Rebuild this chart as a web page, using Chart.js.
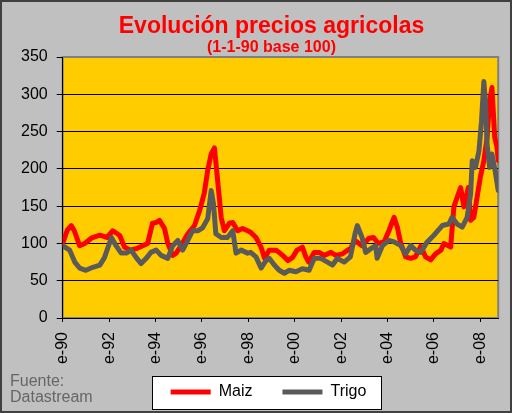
<!DOCTYPE html>
<html lang="es">
<head>
  <meta charset="UTF-8">
  <title>Evolución precios agricolas</title>
  <script src="https://cdn.jsdelivr.net/npm/chart.js"></script>
  <style>
    body { margin: 0; background: #fff; }
    .marco {
      width: 512px;
      height: 413px;
      box-sizing: border-box;
      border: 2px solid #404040;
      background: #c0c0c0;
    }
    canvas { display: block; }
  </style>
</head>
<body>
  <div class="marco"><canvas id="grafico" width="508" height="409"></canvas></div>

  <script>
    // etiquetas del eje X (enero de cada dos años)
    const etiquetasX = ['e-90', 'e-92', 'e-94', 'e-96', 'e-98', 'e-00', 'e-02', 'e-04', 'e-06', 'e-08'];

    // Maiz: fecha en años decimales / índice (1-1-90 = 100)
    const maizFechas = [1990.0, 1990.2, 1990.37, 1990.5, 1990.73, 1990.95, 1991.23, 1991.6, 1991.9, 1992.16,
      1992.45, 1992.67, 1992.9, 1993.17, 1993.45, 1993.66, 1993.87, 1994.03, 1994.17, 1994.39,
      1994.53, 1994.74, 1994.89, 1995.1, 1995.39, 1995.68, 1995.9, 1996.1, 1996.25, 1996.4,
      1996.54, 1996.68, 1996.83, 1996.97, 1997.18, 1997.33, 1997.54, 1997.75, 1997.97, 1998.1,
      1998.33, 1998.55, 1998.7, 1998.9, 1999.2, 1999.48, 1999.7, 1999.9, 2000.1, 2000.33,
      2000.48, 2000.6, 2000.84, 2001.05, 2001.27, 2001.56, 2001.77, 2002.06, 2002.27, 2002.4,
      2002.6, 2002.9, 2003.2, 2003.4, 2003.6, 2003.85, 2004.06, 2004.28, 2004.42, 2004.57,
      2004.78, 2005.0, 2005.2, 2005.43, 2005.64, 2005.86, 2006.07, 2006.3, 2006.43, 2006.72,
      2006.86, 2007.0, 2007.15, 2007.29, 2007.48, 2007.58, 2007.72, 2007.86, 2008.0, 2008.15,
      2008.29, 2008.4, 2008.5, 2008.62, 2008.72, 2008.77];
    const maizValores = [100, 118, 124, 117, 97, 100, 107, 111, 108, 117,
      111, 95, 91, 93, 97, 100, 127, 128, 131, 120,
      100, 84, 87, 97, 113, 124, 144, 167, 198, 220,
      228, 184, 135, 117, 127, 128, 117, 120, 117, 115,
      108, 95, 80, 91, 91, 84, 77, 81, 91, 95,
      82, 75, 88, 88, 84, 88, 84, 86, 91, 93,
      104, 97, 107, 108, 100, 102, 117, 135, 122, 100,
      82, 80, 82, 96, 82, 78, 86, 91, 100, 95,
      149, 162, 175, 149, 175, 131, 135, 162, 189, 211,
      242, 291, 309, 242, 229, 211];

    // Trigo
    const trigoFechas = [1990.0, 1990.3, 1990.52, 1990.73, 1991.0, 1991.3, 1991.6, 1991.8, 1992.1, 1992.3,
      1992.52, 1992.74, 1992.95, 1993.17, 1993.38, 1993.6, 1993.8, 1994.03, 1994.24, 1994.53,
      1994.74, 1994.96, 1995.17, 1995.39, 1995.6, 1995.82, 1996.03, 1996.25, 1996.4, 1996.5,
      1996.6, 1996.83, 1997.1, 1997.33, 1997.47, 1997.69, 1997.97, 1998.1, 1998.33, 1998.55,
      1998.76, 1998.9, 1999.12, 1999.33, 1999.55, 1999.76, 2000.05, 2000.33, 2000.62, 2000.84,
      2001.12, 2001.41, 2001.63, 2001.84, 2002.13, 2002.4, 2002.6, 2002.7, 2002.9, 2003.06,
      2003.28, 2003.49, 2003.55, 2003.78, 2004.06, 2004.28, 2004.57, 2004.78, 2005.0, 2005.2,
      2005.43, 2005.71, 2006.0, 2006.36, 2006.64, 2006.78, 2007.0, 2007.22, 2007.43, 2007.58,
      2007.65, 2007.79, 2007.94, 2008.05, 2008.15, 2008.22, 2008.29, 2008.4, 2008.5, 2008.64,
      2008.77];
    const trigoValores = [97, 91, 75, 67, 64, 68, 71, 81, 108, 97,
      87, 87, 91, 81, 73, 80, 88, 91, 84, 80,
      97, 104, 91, 104, 117, 117, 121, 133, 171, 153,
      113, 108, 108, 117, 87, 91, 87, 88, 82, 67,
      77, 80, 71, 64, 60, 64, 62, 66, 64, 80,
      80, 75, 71, 80, 75, 82, 113, 124, 108, 88,
      93, 97, 80, 97, 104, 102, 97, 86, 97, 91,
      88, 102, 111, 124, 126, 135, 126, 122, 135, 166,
      211, 202, 224, 264, 317, 291, 233, 202, 220, 197,
      171];

    const fuente = ['Fuente:', 'Datastream'];

    const puntos = (xs, ys) => xs.map((x, i) => ({ x: x, y: ys[i] }));

    Chart.defaults.font.family = 'Arial, "Liberation Sans", sans-serif';
    Chart.defaults.color = '#000';

    // corre títulos y leyenda para que queden centrados como en el original
    const ajuste = {
      id: 'ajuste',
      afterLayout(chart) {
        chart.boxes.forEach((b) => {
          if (b.position === 'top') { b.left += 16; b.right += 16; }
        });
        const l = chart.legend;
        l.left += 13; l.right += 13;
        l.top -= 11;
      }
    };

    // fondo amarillo del área, recuadro blanco de la leyenda y nota de fuente
    const fondo = {
      id: 'fondo',
      beforeDraw(chart) {
        const { ctx, chartArea: a, legend } = chart;
        ctx.save();
        ctx.fillStyle = '#ffcc00';
        ctx.fillRect(a.left, a.top, a.right - a.left, a.bottom - a.top);
        ctx.strokeStyle = '#808080';
        ctx.lineWidth = 2;
        ctx.strokeRect(a.left, a.top, a.right - a.left, a.bottom - a.top);

        const cx = Math.round((legend.left + legend.right) / 2);
        const cy = Math.round(legend.top + 30 + 8);
        ctx.fillStyle = '#fff';
        ctx.fillRect(cx - 117, cy - 16, 229, 33);
        ctx.strokeStyle = '#000';
        ctx.lineWidth = 1;
        ctx.strokeRect(cx - 117 + 0.5, cy - 16 + 0.5, 229, 33);
        ctx.restore();
      },
      afterDraw(chart) {
        const ctx = chart.ctx;
        ctx.save();
        ctx.fillStyle = '#666666';
        ctx.font = '16px Arial, "Liberation Sans", sans-serif';
        ctx.textBaseline = 'middle';
        ctx.fillText(fuente[0], 8, 380);
        ctx.fillText(fuente[1], 8, 396);
        ctx.restore();
      }
    };

    new Chart(document.getElementById('grafico'), {
      type: 'line',
      data: {
        datasets: [
          {
            label: 'Maiz',
            data: puntos(maizFechas, maizValores),
            borderColor: '#ff0000',
            backgroundColor: '#ff0000',
            borderWidth: 5,
            borderCapStyle: 'round',
            borderJoinStyle: 'round',
            pointRadius: 0,
            tension: 0,
            order: 1
          },
          {
            label: 'Trigo',
            data: puntos(trigoFechas, trigoValores),
            borderColor: '#5a5a5a',
            backgroundColor: '#5a5a5a',
            borderWidth: 5,
            borderCapStyle: 'round',
            borderJoinStyle: 'round',
            pointRadius: 0,
            tension: 0,
            order: 0
          }
        ]
      },
      options: {
        responsive: false,
        animation: false,
        devicePixelRatio: 1,
        layout: { padding: { left: 10, right: 11, top: 0, bottom: 0 } },
        plugins: {
          title: {
            display: true,
            text: 'Evolución precios agricolas',
            color: '#ff0000',
            font: { size: 23, weight: 'bold', lineHeight: 1 },
            padding: { top: 13, bottom: 2 }
          },
          subtitle: {
            display: true,
            text: '(1-1-90 base 100)',
            color: '#ff0000',
            font: { size: 16, weight: 'bold', lineHeight: 1 },
            padding: { top: 0, bottom: 1 }
          },
          legend: {
            position: 'bottom',
            reverse: true,
            maxHeight: 46,
            labels: {
              usePointStyle: true,
              pointStyle: 'line',
              pointStyleWidth: 40,
              padding: 30,
              color: '#000',
              font: { size: 16 }
            }
          },
          tooltip: { enabled: false }
        },
        scales: {
          x: {
            type: 'linear',
            min: 1990,
            max: 2008.77,
            afterFit: (s) => { s.height = 47; },
            grid: { drawOnChartArea: false, tickLength: 4, tickColor: '#000' },
            border: { color: '#000' },
            ticks: {
              stepSize: 2,
              includeBounds: false,
              autoSkip: false,
              minRotation: 90,
              maxRotation: 90,
              padding: 10,
              font: { size: 16 },
              callback: (v) => etiquetasX[Math.round((v - 1990) / 2)]
            }
          },
          y: {
            min: 0,
            max: 350,
            grid: {
              color: (c) => (c.tick && c.tick.value === 350 ? '#808080' : '#000'),
              tickLength: 6,
              tickColor: '#000'
            },
            border: { color: '#000' },
            ticks: { stepSize: 50, padding: 9, font: { size: 16 } }
          }
        }
      },
      plugins: [ajuste, fondo]
    });
  </script>
</body>
</html>
